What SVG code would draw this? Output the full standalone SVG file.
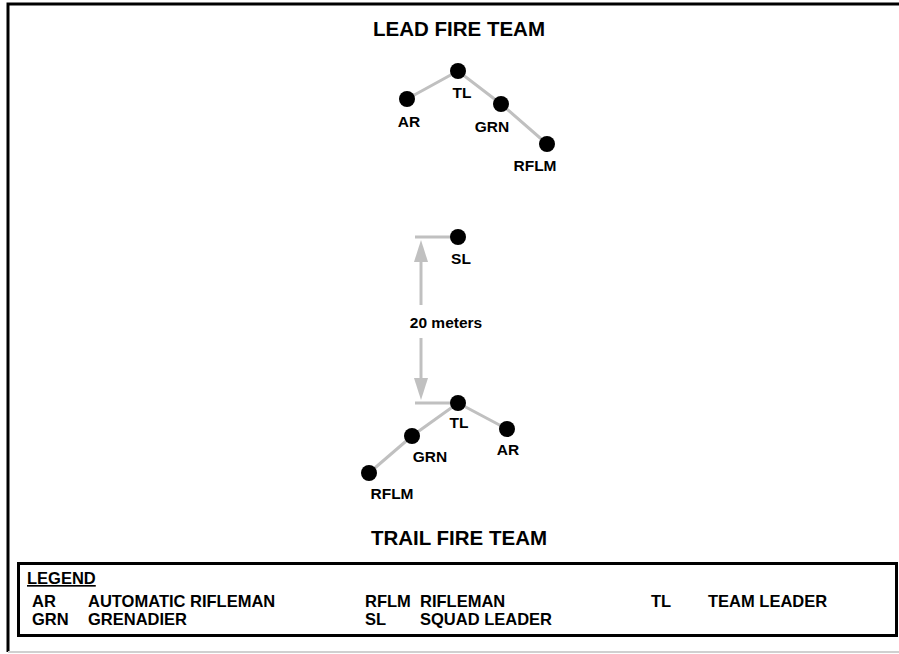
<svg xmlns="http://www.w3.org/2000/svg" width="899" height="654" viewBox="0 0 899 654">
<defs>
<style>
.t{font-family:"Liberation Sans",Arial,sans-serif;font-weight:bold;fill:#000}
.title{font-size:20.5px;text-anchor:middle}
.lbl{font-size:15.5px;text-anchor:middle}
.leg{font-size:16.5px}
.dot{fill:#000}
.ln{stroke:#c0c0c0;stroke-width:3;fill:none}
.ah{fill:#c0c0c0}
</style>
</defs>
<rect x="0" y="0" width="899" height="654" fill="#fff"/>
<path d="M8,652 L8,4 L899,4" stroke="#000" stroke-width="3" fill="none"/>
<line x1="8" y1="652" x2="899" y2="652" stroke="#d0d0d0" stroke-width="2"/>
<text class="t title" x="459" y="36">LEAD FIRE TEAM</text>
<text class="t title" x="459" y="545">TRAIL FIRE TEAM</text>
<g id="connectors">
<polyline class="ln" points="407,99 458,71 501,104 547,144"/>
<polyline class="ln" points="369,473 412,436 458,403 507,429"/>
<line class="ln" x1="415" y1="237" x2="458" y2="237"/>
<line class="ln" x1="415" y1="403" x2="458" y2="403"/>
<line class="ln" x1="421" y1="260" x2="421" y2="305"/>
<line class="ln" x1="421" y1="338" x2="421" y2="380"/>
<polygon class="ah" points="421,240 428,262 414,262"/>
<polygon class="ah" points="421,400 428,378 414,378"/>
</g>
<text class="t lbl" x="446" y="328">20 meters</text>
<g id="lead-ar"><circle class="dot" cx="407" cy="99" r="8"/><text class="t lbl" x="409" y="127">AR</text></g>
<g id="lead-tl"><circle class="dot" cx="458" cy="71" r="8"/><text class="t lbl" x="462" y="98">TL</text></g>
<g id="lead-grn"><circle class="dot" cx="501" cy="104" r="8"/><text class="t lbl" x="492" y="132">GRN</text></g>
<g id="lead-rflm"><circle class="dot" cx="547" cy="144" r="8"/><text class="t lbl" x="535" y="171">RFLM</text></g>
<g id="sl"><circle class="dot" cx="458" cy="237" r="8"/><text class="t lbl" x="461" y="264">SL</text></g>
<g id="trail-tl"><circle class="dot" cx="458" cy="403" r="8"/><text class="t lbl" x="459" y="428">TL</text></g>
<g id="trail-ar"><circle class="dot" cx="507" cy="429" r="8"/><text class="t lbl" x="508" y="455">AR</text></g>
<g id="trail-grn"><circle class="dot" cx="412" cy="436" r="8"/><text class="t lbl" x="430" y="462">GRN</text></g>
<g id="trail-rflm"><circle class="dot" cx="369" cy="473" r="8"/><text class="t lbl" x="392" y="499">RFLM</text></g>
<g id="legend">
<rect x="18.5" y="563.5" width="878" height="72" fill="#fff" stroke="#000" stroke-width="3"/>
<text class="t leg" x="27" y="584" text-decoration="underline" font-size="17.5">LEGEND</text>
<text class="t leg" x="32" y="607">AR</text>
<text class="t leg" x="88" y="607">AUTOMATIC RIFLEMAN</text>
<text class="t leg" x="365" y="607">RFLM</text>
<text class="t leg" x="420" y="607">RIFLEMAN</text>
<text class="t leg" x="651" y="607">TL</text>
<text class="t leg" x="708" y="607">TEAM LEADER</text>
<text class="t leg" x="32" y="625">GRN</text>
<text class="t leg" x="88" y="625">GRENADIER</text>
<text class="t leg" x="365" y="625">SL</text>
<text class="t leg" x="420" y="625">SQUAD LEADER</text>
</g>
</svg>
